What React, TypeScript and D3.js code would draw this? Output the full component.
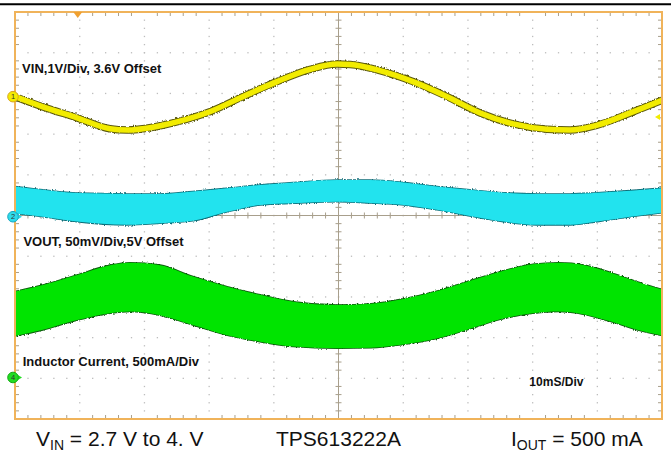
import React from "react";
import * as d3 from "d3";

// time axis: ms (10 ms/div, 10 divisions); vertical: screen divisions (-5..5)
const vinT = [0, 4.3, 9.6, 14.7, 17.3, 21.3, 25.0, 30.1, 35.2, 40.5, 45.6, 49.8, 51.8, 56.4, 61.5, 66.8, 71.9, 77.0, 82.2, 85.8, 90.0, 95.1, 100];
const vinDiv = [2.92, 2.67, 2.40, 2.13, 2.10, 2.17, 2.30, 2.55, 2.92, 3.29, 3.59, 3.72, 3.71, 3.56, 3.29, 2.92, 2.52, 2.25, 2.12, 2.10, 2.22, 2.52, 2.83];

const voutT = [0, 4.3, 9.6, 17.3, 22.4, 27.5, 32.8, 37.9, 43.0, 49.8, 54.9, 60.1, 65.2, 70.3, 75.5, 80.7, 85.8, 90.0, 95.1, 100];
const voutTop = [0.71, 0.63, 0.55, 0.53, 0.53, 0.59, 0.67, 0.75, 0.81, 0.87, 0.87, 0.81, 0.71, 0.63, 0.56, 0.53, 0.53, 0.56, 0.61, 0.67];
const voutBot = [0.05, -0.03, -0.15, -0.23, -0.19, -0.13, 0.09, 0.26, 0.30, 0.34, 0.31, 0.26, 0.14, -0.01, -0.15, -0.23, -0.23, -0.15, -0.03, 0.07];

const ilT = [0, 4.3, 9.6, 14.7, 17.8, 22.4, 27.5, 32.8, 37.9, 43.0, 49.8, 55, 60, 65, 70, 75, 80, 84, 88, 92, 96, 100];
const ilTop = [-1.87, -1.71, -1.46, -1.22, -1.16, -1.22, -1.50, -1.75, -1.95, -2.12, -2.20, -2.17, -2.05, -1.87, -1.62, -1.38, -1.20, -1.16, -1.22, -1.40, -1.62, -1.82];
const ilBot = [-2.96, -2.81, -2.57, -2.40, -2.36, -2.45, -2.69, -2.94, -3.10, -3.22, -3.26, -3.25, -3.17, -3.03, -2.80, -2.55, -2.40, -2.36, -2.43, -2.60, -2.80, -2.95];

const labels = [
  { text: "VIN,1V/Div, 3.6V Offset", t: 1.1, d: 3.5 },
  { text: "VOUT, 50mV/Div,5V Offset", t: 1.3, d: -0.75 },
  { text: "Inductor Current, 500mA/Div", t: 1.2, d: -3.7 },
];
const timebase = { text: "10mS/Div", t: 79.5, d: -4.2 };
const chanMarkers = [
  { n: "1", d: 2.92, fill: "#F4EC00", stroke: "#D9A520", arrow: false },
  { n: "2", d: -0.03, fill: "#2EDBEA", stroke: "#1AA8C0", arrow: true },
  { n: "4", d: -3.98, fill: "#22DD22", stroke: "#15A815", arrow: true },
];
const trigT = 9.7;
const trigLevelDiv = 2.42;

const W = 671, H = 455;
const L = 15, R = 662, T = 12, B = 419;

export default function App() {
  const x = d3.scaleLinear().domain([0, 100]).range([L, R]);
  const y = d3.scaleLinear().domain([-5, 5]).range([B, T]);
  const divT = d3.range(0, 101, 10);
  const divV = d3.range(-5, 5.01, 1);
  const subT = d3.range(0, 100.01, 2);
  const subV = d3.range(-5, 5.001, 0.2);

  const line = d3.line<number>().x((_, i) => x(vinT[i])).y((v) => y(v)).curve(d3.curveMonotoneX);
  const areaOf = (ts: number[], top: number[], bot: number[]) =>
    d3.area<number>().x((_, i) => x(ts[i])).y0((_, i) => y(bot[i])).y1((v) => y(v)).curve(d3.curveMonotoneX)(top) || "";

  const font = "'Liberation Sans', Arial, sans-serif";
  const gridColor = "#BDBDBD";
  const axisColor = "#A89F8C";

  const dots: JSX.Element[] = [];
  divV.slice(1, -1).forEach((v) => {
    subT.forEach((t) => {
      dots.push(<rect key={`h${v}-${t}`} x={x(t) - 0.6} y={y(v) - 0.6} width={1.3} height={1.3} fill={gridColor} />);
    });
  });
  divT.slice(1, -1).forEach((t) => {
    subV.forEach((v) => {
      dots.push(<rect key={`v${t}-${v}`} x={x(t) - 0.6} y={y(v) - 0.6} width={1.3} height={1.3} fill={gridColor} />);
    });
  });

  const ticks: JSX.Element[] = [];
  subT.forEach((t, i) => {
    if (i % 5 === 0) return;
    ticks.push(<line key={`tt${i}`} x1={x(t)} x2={x(t)} y1={T} y2={T + 4} stroke={axisColor} strokeWidth={1} />);
    ticks.push(<line key={`tb${i}`} x1={x(t)} x2={x(t)} y1={B} y2={B - 4} stroke={axisColor} strokeWidth={1} />);
    ticks.push(<line key={`tc${i}`} x1={x(t)} x2={x(t)} y1={y(0) - 3} y2={y(0) + 3} stroke={axisColor} strokeWidth={1} />);
  });
  subV.forEach((v, i) => {
    if (i % 5 === 0) return;
    ticks.push(<line key={`vl${i}`} x1={L} x2={L + 4} y1={y(v)} y2={y(v)} stroke={axisColor} strokeWidth={1} />);
    ticks.push(<line key={`vr${i}`} x1={R} x2={R - 4} y1={y(v)} y2={y(v)} stroke={axisColor} strokeWidth={1} />);
    ticks.push(<line key={`vc${i}`} x1={x(50) - 3} x2={x(50) + 3} y1={y(v)} y2={y(v)} stroke={axisColor} strokeWidth={1} />);
  });

  const vinPath = line(vinDiv) || "";
  const voutPath = areaOf(voutT, voutTop, voutBot);
  const ilPath = areaOf(ilT, ilTop, ilBot);

  return (
    <svg width={W} height={H} style={{ position: "absolute", left: 0, top: 0, background: "#fff" }} fontFamily={font}>
      <defs>
        <filter id="noise" x="-5%" y="-20%" width="110%" height="140%">
          <feTurbulence type="fractalNoise" baseFrequency="0.9 0.35" numOctaves={2} seed={3} result="n" />
          <feDisplacementMap in="SourceGraphic" in2="n" scale={3} xChannelSelector="R" yChannelSelector="G" />
        </filter>
        <clipPath id="plot">
          <rect x={L} y={T} width={R - L} height={B - T} />
        </clipPath>
      </defs>
      <rect x={0} y={0} width={W} height={H} fill="#fff" />
      <line x1={0} x2={W} y1={4.3} y2={4.3} stroke="#000" strokeWidth={2} />

      {dots}
      <line x1={x(50)} x2={x(50)} y1={T} y2={B} stroke={axisColor} strokeWidth={1} />
      <line x1={L} x2={R} y1={y(0)} y2={y(0)} stroke={axisColor} strokeWidth={1} />
      {ticks}

      <g clipPath="url(#plot)">
        <path d={ilPath} fill="#0A5A0A" stroke="#0A5A0A" strokeWidth={1.6} filter="url(#noise)" />
        <path d={ilPath} fill="#00E400" />
        <path d={voutPath} fill="#0F6E78" stroke="#0F6E78" strokeWidth={1.6} filter="url(#noise)" />
        <path d={voutPath} fill="#22E3EE" />
        <path d={vinPath} fill="none" stroke="#5C5A10" strokeWidth={7.5} filter="url(#noise)" />
        <path d={vinPath} fill="none" stroke="#F2EC00" strokeWidth={5.5} />
      </g>

      <rect x={L} y={T} width={R - L} height={B - T} fill="none" stroke="#F0B35A" strokeWidth={2} />

      {labels.map((l) => (
        <text key={l.text} x={x(l.t)} y={y(l.d)} fontSize={13} fontWeight="bold" fill="#111">{l.text}</text>
      ))}
      <text x={x(timebase.t)} y={y(timebase.d)} fontSize={12} fontWeight="bold" fill="#111">{timebase.text}</text>

      <path d={`M${x(trigT) - 4.5},${T} L${x(trigT) + 4.5},${T} L${x(trigT)},${T + 6} Z`} fill="#F0A030" />
      <path d={`M${R - 7},${y(trigLevelDiv)} L${R - 2},${y(trigLevelDiv) - 3} L${R - 2},${y(trigLevelDiv) + 3} Z`} fill="#F2EC00" />

      {chanMarkers.map((m) => (
        <g key={m.n}>
          {m.arrow && <path d={`M${L + 2},${y(m.d) - 3} L${L + 7},${y(m.d)} L${L + 2},${y(m.d) + 3} Z`} fill={m.fill} />}
          <circle cx={13} cy={y(m.d)} r={5.3} fill={m.fill} stroke={m.stroke} strokeWidth={1} />
          <text x={13} y={y(m.d) + 2.6} fontSize={7.5} textAnchor="middle" fill="#333">{m.n}</text>
        </g>
      ))}

      <text x={36} y={445.5} fontSize={21} fill="#111">
        V<tspan fontSize={14} dy={4}>IN</tspan><tspan dy={-4}> = 2.7 V to 4. V</tspan>
      </text>
      <text x={276} y={445.5} fontSize={21} fill="#111">TPS613222A</text>
      <text x={511} y={445.5} fontSize={21} fill="#111">
        I<tspan fontSize={14} dy={4}>OUT</tspan><tspan dy={-4}> = 500 mA</tspan>
      </text>
    </svg>
  );
}
